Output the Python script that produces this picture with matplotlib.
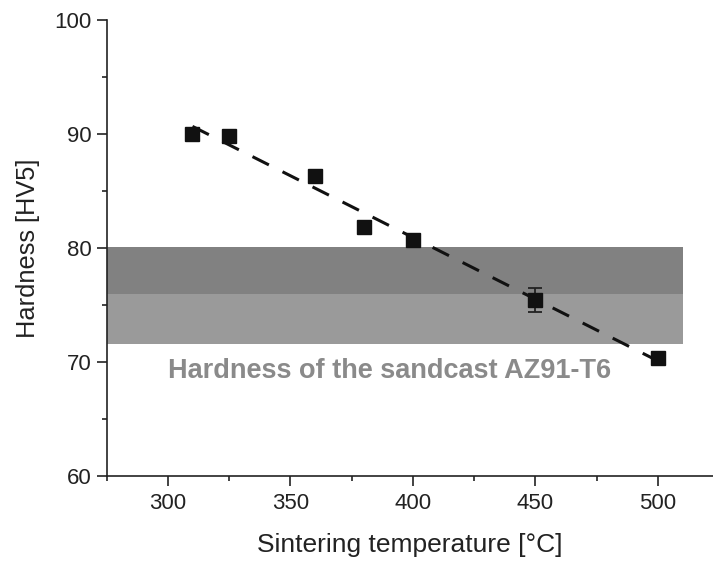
import numpy as np
import matplotlib
matplotlib.use("Agg")
import matplotlib.pyplot as plt
from matplotlib.ticker import MultipleLocator

plt.rcParams['font.family'] = ['Liberation Sans', 'DejaVu Sans']

temps = [310, 325, 360, 380, 400, 450, 500]
hardness = [90.0, 89.85, 86.35, 81.87, 80.73, 75.46, 70.32]
errors = [0, 0, 0, 0, 0, 1.05, 0]

band_dark = (76.0, 80.05)
band_light = (71.6, 76.0)
band_xmax = 510.2
band_text = "Hardness of the sandcast AZ91-T6"

xticks = [300, 350, 400, 450, 500]
yticks = [60, 70, 80, 90, 100]

fig = plt.figure(figsize=(7.13, 5.63), dpi=100)
ax = fig.add_axes([0.1497, 0.1545, 0.8503, 0.81])

xmin, xmax = 275, 522.5
ax.set_xlim(xmin, xmax)
ax.set_ylim(60, 100)

# bands
ax.fill_between([xmin, band_xmax], band_dark[0], band_dark[1], color='#818181', lw=0, zorder=1)
ax.fill_between([xmin, band_xmax], band_light[0], band_light[1], color='#9a9a9a', lw=0, zorder=1)
ax.text(390.6, 69.2, band_text, ha='center', va='center', fontsize=19.5,
        fontweight='bold', color='#8a8a8a', zorder=2)

# linear fit
p = np.polyfit(temps, hardness, 1)
xf = np.array([temps[0], temps[-1]])
ax.plot(xf, np.polyval(p, xf), color='#111111', lw=2.2, dashes=(6, 5), zorder=3)

# markers
ax.errorbar(temps, hardness, yerr=errors, fmt='s', color='#111111', ms=10.5,
            ecolor='#222222', elinewidth=1.3, capsize=5, capthick=1.3, zorder=4)

for s in ['top', 'right']:
    ax.spines[s].set_visible(False)
for s in ['left', 'bottom']:
    ax.spines[s].set_linewidth(1.2)
    ax.spines[s].set_color('#222222')

ax.set_xticks(xticks)
ax.set_yticks(yticks)
ax.xaxis.set_minor_locator(MultipleLocator(25))
ax.yaxis.set_minor_locator(MultipleLocator(5))
ax.tick_params(axis='both', which='major', direction='out', length=7, width=1.2,
               labelsize=16, colors='#222222', pad=4)
ax.tick_params(axis='x', which='major', pad=5)
ax.tick_params(axis='both', which='minor', direction='out', length=3.5, width=1.2,
               colors='#222222')

ax.set_xlabel("Sintering temperature [°C]", fontsize=19, color='#222222', labelpad=14)
ax.set_ylabel("Hardness [HV5]", fontsize=18.3, color='#222222', labelpad=10)

fig.savefig("out.png", dpi=100)
